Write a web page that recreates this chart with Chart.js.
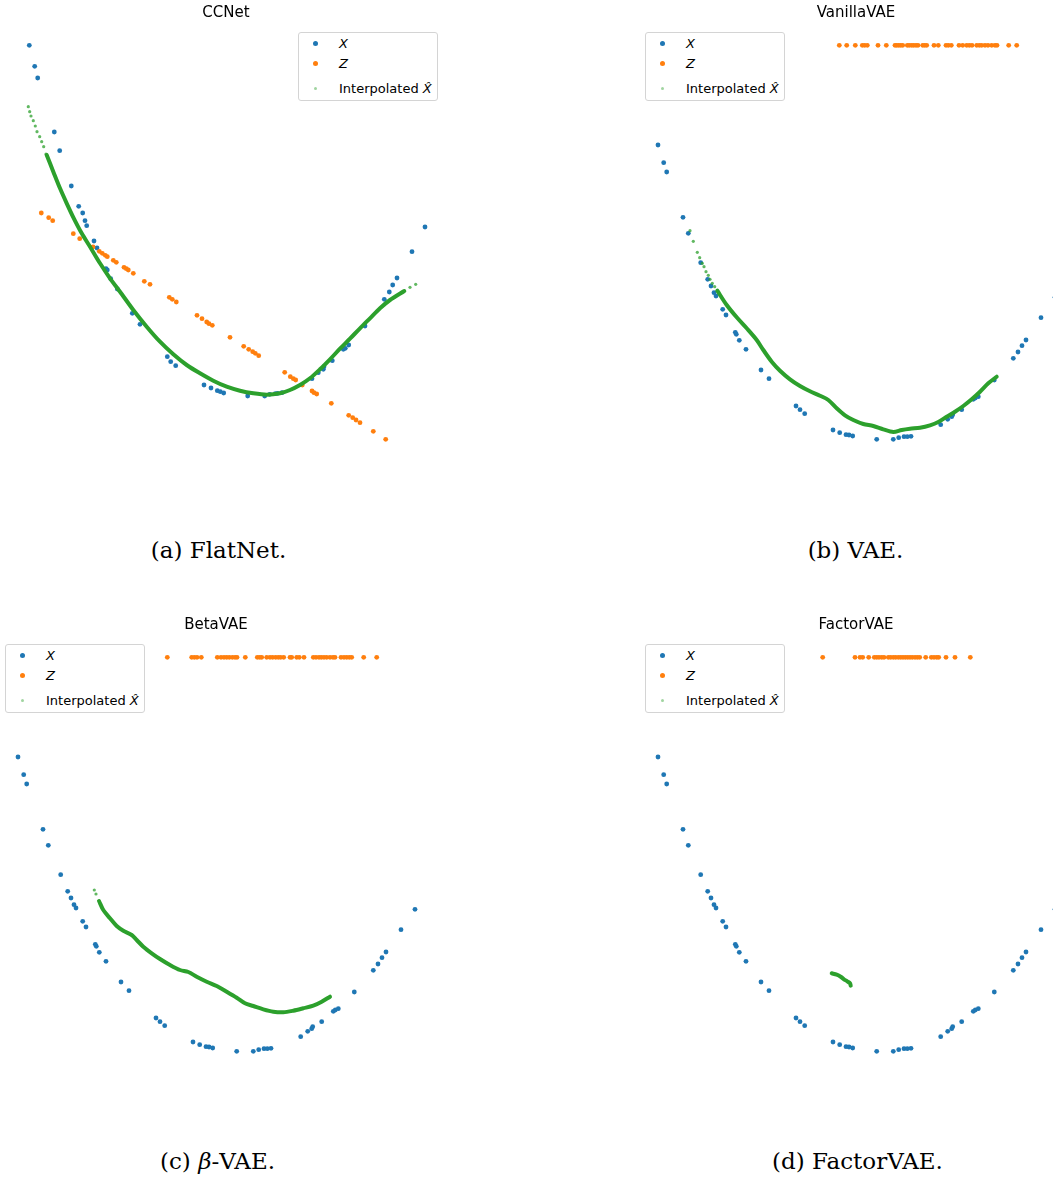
<!DOCTYPE html>
<html lang="en">
<head>
<meta charset="UTF-8">
<title>Interpolation between latent codes</title>
<script src="https://cdn.jsdelivr.net/npm/chart.js"></script>
<style>
  html, body { margin: 0; padding: 0; background: #fff; overflow: hidden; }
  #page { position: relative; width: 1053px; height: 1181px; overflow: hidden; }
  .panel { position: absolute; }
  .panel canvas { position: absolute; left: 0; top: 0; }
  .legend {
    position: absolute; top: 32px; width: 140px; height: 69px;
    box-sizing: border-box; border: 1px solid #d4d4d4; border-radius: 3px;
    background: #fff; font-family: 'DejaVu Sans', sans-serif; font-size: 13px; color: #000;
  }
  .legend .row { position: absolute; left: 40px; line-height: 13px; white-space: nowrap; }
  .legend .dot { position: absolute; border-radius: 50%; }
  .caption {
    position: absolute; width: 300px; text-align: center;
    font-family: 'DejaVu Serif', serif; font-size: 23px; line-height: 23px; color: #000;
  }
</style>
</head>
<body>
<div id="page"></div>
<script>
// values, in panel units (y grows downward)

// (a) CCNet / FlatNet
const xFlatNet = [[29.3,45.3],[34.7,66.3],[37.7,78],[54.3,132],[59.7,150.7],[71.3,186],[78.7,206.3],[82.7,213],[85,220.7],[86.7,225.7],[94,241],[97,248],[106,268.7],[107.3,270],[110.7,278.7],[117.3,289],[132.3,313.3],[140,324.3],[167.3,356.7],[170.7,361.7],[175.7,365.7],[204,385],[211,388],[217.3,390.7],[220.3,391.7],[223.7,393],[247.7,396],[264.7,396],[269.7,394.3],[275.3,393.7],[277.7,393.3],[282,392.7],[312,378.7],[318.3,372.7],[323.3,369.3],[324,366.7],[332.3,360.7],[343.3,349.3],[345.3,348.3],[348.7,345],[365,326],[384.3,299.3],[389.3,292],[392.7,285],[397,278],[412,251.7],[425,227]];
const zFlatNet = [[41.3,213],[48.7,217.7],[52.7,220.7],[73.3,233.7],[79.7,238.7],[93,247],[99.3,251.3],[102.3,253.3],[105.3,255.3],[107.3,256.7],[113.3,260.3],[116.3,262.3],[124,267.3],[126.3,268.7],[128.3,270],[133.3,273.3],[144.3,281.3],[150,284.3],[169.3,297.3],[172.3,299.3],[176.3,302],[197,315.3],[202,318.7],[206.7,322],[209,323.7],[212.3,325.3],[230,337.3],[243.7,346.3],[248.7,349.3],[252.7,351.7],[255.3,353.3],[258.7,355.7],[284.7,372.3],[290.3,376.7],[293.3,378.7],[295.7,380],[302.3,385],[312,391],[314,392.7],[316.7,394],[331.3,403.3],[348.7,415.3],[352.7,417.7],[356,420],[360,422.7],[373.3,431.3],[385.7,439.3]];
const interpDotsFlatNet = [[28.3,106.7],[29.7,111.7],[31,116],[33.3,120.7],[35.3,126],[37,131.7],[39.7,136.7],[41.7,141.7],[43.7,146.7],[46,154],[410,287.3],[415.7,284.3]];
const interpPathFlatNet = [[46.7,155],[53.3,171.7],[60,188.3],[66.7,203.3],[73.3,217.3],[81.7,233.3],[90,246.7],[100,263.3],[110,278.3],[120,291.7],[133.3,310],[146.7,326.7],[160,341.7],[173.3,354.3],[186.7,365],[200,373.3],[213.3,380.7],[226.7,386.7],[240,390.7],[253.3,393.3],[266.7,394.7],[280,393.3],[290,390],[300,385],[310,378.3],[320,369.3],[330,359.3],[340,348.7],[350,338.7],[360,328.3],[370,318.3],[380,308.3],[390,300],[404.3,291]];

// X is shared by the three VAE panels
const xVae = [[18,145],[23.7,162.7],[26.7,172],[43,217.3],[48.3,233.3],[60.7,262.7],[67.7,279.3],[71,286],[74,292.7],[76,296],[82.7,309.3],[86,315],[95.3,332.3],[96.3,334.3],[99.3,340.3],[106,349.3],[121,370],[129,378.7],[156,406],[160,409.7],[164.7,413.7],[193,430],[199.7,432.7],[206,434.7],[209,435],[212.7,436],[236.7,439.3],[253.3,439.3],[258.7,437.7],[264,436.7],[267.3,436.7],[271,436.3],[300.7,424.7],[307.7,419.3],[311.7,416.7],[312.7,414.7],[321.7,409.7],[333.3,399.3],[335.3,398],[338.3,396.7],[354.3,380],[373.3,358.3],[378,352],[382,345.7],[386,340],[401,317.7],[415,297.3]];

// 1-d latent codes, all plotted on one row
const zRow = 45.3;
const zVanilla = [199.3,206.7,215.3,222.3,224.7,227.3,238,246.3,255,256.7,258.7,260.7,262.7,267.3,269.3,271.7,273.7,276,278,282.7,284.7,286.7,294,298.3,306,308.3,311.3,319,322.7,326.7,329.3,332,336.7,339.3,341.7,345,348,351.7,355,357,368.7,376.7];
const zBeta = [167.3,191.7,194.3,197,201.3,217.3,221,224,226.7,229.3,232.3,235,237,245.3,257.3,259.7,261.7,266.7,270,272.7,275.7,278.3,280.7,283.7,290,291.7,296.7,299.3,304,313.3,316,319,321.3,324,326.7,330,333,335,341,344,346.7,349.3,351.7,363.7,376.7];
const zFactor = [182.7,215,220,222.7,228.7,234.3,236.7,239,241.7,244,248.3,250.7,253.3,255.7,258.3,260.7,263,265.3,267.7,270,272.3,275,277.3,279.7,285.7,291.3,294,296.7,298.7,306,315,330.3];

const interpDotsVanilla = [[50,230.7],[53.3,241.3],[57.3,252.3],[59.7,257.7],[62.3,263.3],[64,266.7],[66,271.7],[68.3,275.3],[70,279.3],[72.3,283.3],[74.7,286.7]];
const interpPathVanilla = [[77.3,290.7],[86.7,305],[96.7,317.3],[106.7,328.3],[116.7,340],[123.3,350],[131.7,361.7],[140,370.7],[150,379.3],[160,386],[170,391.3],[180,395.7],[188.3,400],[196.7,408.3],[205,415.3],[213.3,420],[223.3,424],[233.3,426],[243.3,429.3],[253.3,432],[261.7,430],[270,428.7],[280,427.7],[290,425.3],[298.3,422],[306.7,416.7],[315,411.7],[323.3,406],[331.7,399.3],[340,391.7],[348.3,383.3],[356.7,376.7]];
const interpDotsBeta = [[94.3,278],[96,282]];
const interpPathBeta = [[99,289],[103.3,298],[110,306.3],[116.7,314],[123.3,318.7],[131.7,323],[136.7,328],[143.3,334.7],[151.7,341.3],[160,347],[170,353],[180,358],[188.3,360],[196.7,364.7],[206.7,369.7],[216.7,374],[226.7,379.7],[236.7,385.7],[245,391.3],[253.3,394],[263.3,397.3],[273.3,399.7],[283.3,400.3],[293.3,398.7],[303.3,396.3],[313.3,393.7],[321.7,389.7],[330,384.7]];
const interpDotsFactor = [[210.6,373]];
const interpPathFactor = [[191.7,361.3],[196.7,362.7],[200.7,364.7],[204,367.3],[207.3,369.3],[210,371.3],[210.7,373.7]];

const BLUE = '#1f77b4', ORANGE = '#ff7f0e', GREEN = '#2ca02c';
const TITLE_H = 28;   // 4 + 18 + 6, title block above the plot area
const PANEL_H = 480;

const onRow = xs => xs.map(x => [x, zRow]);

const panels = [
  { title: 'CCNet', left: 0, top: 0, width: 452, X: xFlatNet, Z: zFlatNet,
    dots: interpDotsFlatNet, path: interpPathFlatNet, legendLeft: 298,
    caption: '(a) FlatNet.', capX: 218.5, capY: 538.6 },
  { title: 'VanillaVAE', left: 640, top: 0, width: 432, X: xVae, Z: onRow(zVanilla),
    dots: interpDotsVanilla, path: interpPathVanilla, legendLeft: 5,
    caption: '(b) VAE.', capX: 855.5, capY: 538.6 },
  { title: 'BetaVAE', left: 0, top: 612, width: 432, X: xVae, Z: onRow(zBeta),
    dots: interpDotsBeta, path: interpPathBeta, legendLeft: 5,
    caption: '(c) <i>β</i>-VAE.', capX: 217.5, capY: 1149.6 },
  { title: 'FactorVAE', left: 640, top: 612, width: 432, X: xVae, Z: onRow(zFactor),
    dots: interpDotsFactor, path: interpPathFactor, legendLeft: 5,
    caption: '(d) FactorVAE.', capX: 857.5, capY: 1149.6 }
];

const toPts = arr => arr.map(p => ({ x: p[0], y: p[1] }));

function legendHtml(left) {
  return `<div class="legend" style="left:${left}px">
    <span class="dot" style="left:14px;top:7.5px;width:5px;height:5px;background:${BLUE}"></span>
    <div class="row" style="top:4px"><i>X</i></div>
    <span class="dot" style="left:14px;top:27.5px;width:5px;height:5px;background:${ORANGE}"></span>
    <div class="row" style="top:24px"><i>Z</i></div>
    <span class="dot" style="left:15px;top:54px;width:3px;height:3px;background:rgba(44,160,44,0.45)"></span>
    <div class="row" style="top:49px">Interpolated <i>X&#770;</i></div>
  </div>`;
}

const page = document.getElementById('page');

panels.forEach(p => {
  const box = document.createElement('div');
  box.className = 'panel';
  box.style.left = p.left + 'px';
  box.style.top = p.top + 'px';
  box.style.width = p.width + 'px';
  box.style.height = PANEL_H + 'px';
  const canvas = document.createElement('canvas');
  canvas.width = p.width;
  canvas.height = PANEL_H;
  box.appendChild(canvas);
  box.insertAdjacentHTML('beforeend', legendHtml(p.legendLeft));
  page.appendChild(box);

  const cap = document.createElement('div');
  cap.className = 'caption';
  cap.style.left = (p.capX - 150) + 'px';
  cap.style.top = p.capY + 'px';
  cap.innerHTML = p.caption;
  page.appendChild(cap);

  new Chart(canvas, {
    type: 'scatter',
    data: {
      datasets: [
        { label: 'Interpolated X\u0302', data: toPts(p.path), showLine: true,
          borderColor: GREEN, borderWidth: 4, pointRadius: 0, tension: 0.3,
          borderCapStyle: 'round', borderJoinStyle: 'round', order: 0 },
        { label: 'Interpolated X\u0302 (sparse)', data: toPts(p.dots),
          backgroundColor: 'rgba(44,160,44,0.75)', pointRadius: 1.6, pointBorderWidth: 0, order: 1 },
        { label: 'Z', data: toPts(p.Z), backgroundColor: ORANGE,
          pointRadius: 2.4, pointBorderWidth: 0, order: 2 },
        { label: 'X', data: toPts(p.X), backgroundColor: BLUE,
          pointRadius: 2.4, pointBorderWidth: 0, order: 3 }
      ]
    },
    options: {
      responsive: false,
      animation: false,
      events: [],
      layout: { padding: 0, autoPadding: false },
      plugins: {
        legend: { display: false },
        tooltip: { enabled: false },
        title: {
          display: true, text: p.title, color: '#000',
          font: { family: 'DejaVu Sans', size: 15, weight: 'normal', lineHeight: 1.2 },
          padding: { top: 4, bottom: 6 }
        }
      },
      scales: {
        x: { type: 'linear', display: false, min: 0, max: p.width },
        y: { type: 'linear', display: false, reverse: true, min: TITLE_H, max: PANEL_H }
      }
    }
  });
});
</script>
</body>
</html>
